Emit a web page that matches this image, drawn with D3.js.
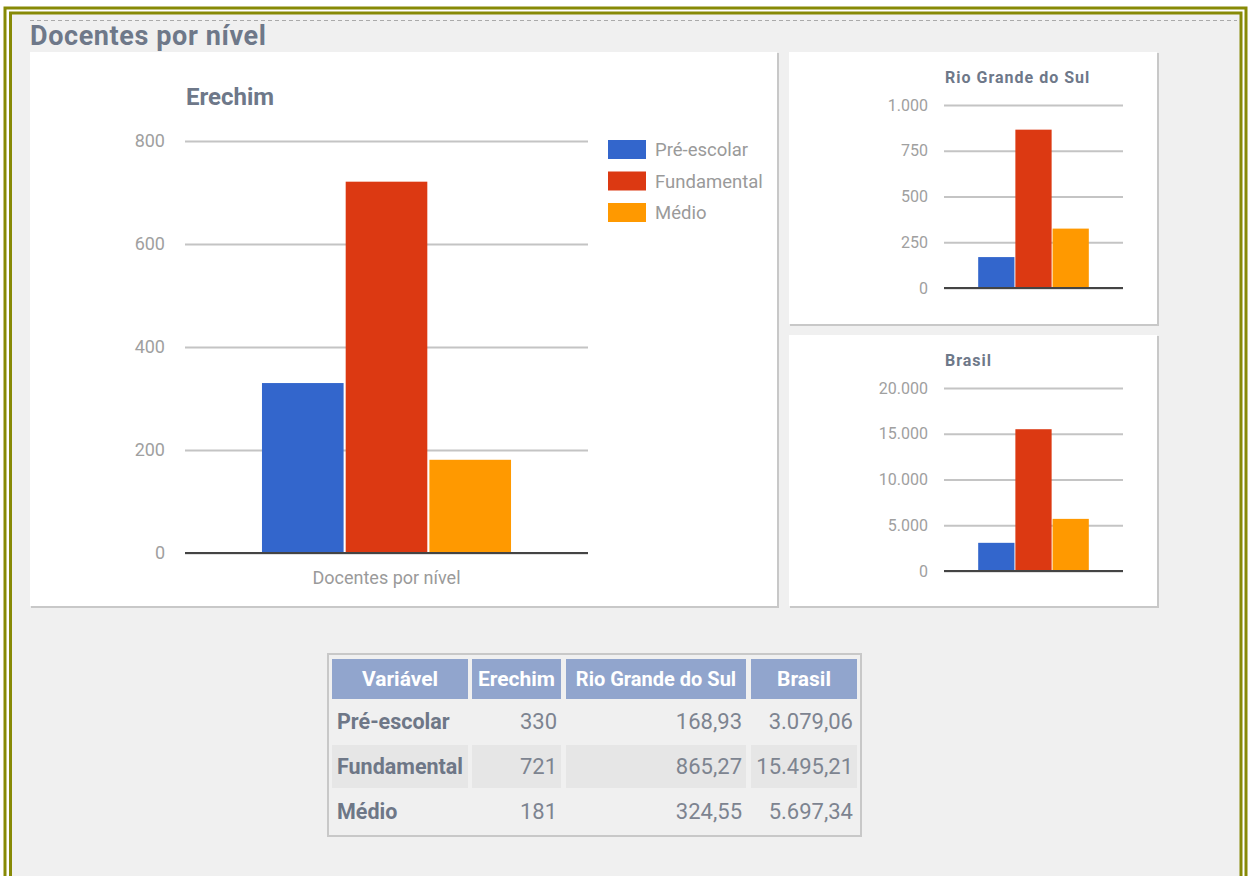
<!DOCTYPE html>
<html>
<head>
<meta charset="utf-8">
<script src="https://cdn.jsdelivr.net/npm/d3@7"></script>
<style>
  body { margin: 0; background: #fff; }
  svg text { font-family: Roboto, "Liberation Sans", Arial, sans-serif; }
</style>
</head>
<body>
<svg id="page" width="1258" height="876"></svg>
<script>
// data
const levels = ['Pré-escolar', 'Fundamental', 'Médio'];
const colors = ['#3366cc', '#dc3912', '#ff9900'];
const erechim = [330, 721, 181];
const rioGrande = [168.93, 865.27, 324.55];
const brasil = [3079.06, 15495.21, 5697.34];
const erechimTicks = [0, 200, 400, 600, 800];
const rioGrandeTicks = [0, 250, 500, 750, 1000];
const brasilTicks = [0, 5000, 10000, 15000, 20000];
const tableHeader = ['Variável', 'Erechim', 'Rio Grande do Sul', 'Brasil'];

const ptBR = d3.formatLocale({decimal: ',', thousands: '.', grouping: [3], currency: ['R$', '']});
const fmtInt = ptBR.format(',d');
const fmtDec = ptBR.format(',.2f');

const svg = d3.select('#page');

// frame
svg.append('rect').attr('x', 5).attr('y', 8).attr('width', 1241).attr('height', 900)
  .attr('fill', '#fff').attr('stroke', '#878a06').attr('stroke-width', 3);
svg.append('rect').attr('x', 10.5).attr('y', 13).attr('width', 1230.5).attr('height', 900)
  .attr('fill', '#f0f0f0').attr('stroke', '#878a06').attr('stroke-width', 3);
svg.append('line').attr('x1', 30).attr('x2', 1237).attr('y1', 20.5).attr('y2', 20.5)
  .attr('stroke', '#aaa').attr('stroke-dasharray', '4,3');
svg.append('text').attr('x', 30).attr('y', 45).text('Docentes por nível')
  .attr('font-size', 27).attr('letter-spacing', 0.6).attr('font-weight', 'bold').attr('fill', '#6e7889');

function panel(x, y, w, h) {
  svg.append('rect').attr('x', x + 1).attr('y', y + 1).attr('width', w + 1).attr('height', h + 1).attr('fill', '#c8c8c8');
  svg.append('rect').attr('x', x).attr('y', y).attr('width', w).attr('height', h).attr('fill', '#fff');
}
panel(30, 52, 747, 554);
panel(789, 52, 368, 272);
panel(789, 335, 368, 271);

/**
 * barChart - draws one grouped column chart
 */
function barChart(opts) {
  const {values, ticks, left, right, top, zero, title, titleY, fontSize, labelGap, tickFmt} = opts;
  const g = svg.append('g');
  const y = d3.scaleLinear().domain([0, ticks[ticks.length - 1]]).range([zero, top]);
  const outer = d3.scaleBand().domain(['Docentes por nível']).range([left, right])
    .paddingInner(0.382).paddingOuter(0.191);
  const inner = d3.scaleBand().domain(levels)
    .range([outer('Docentes por nível'), outer('Docentes por nível') + outer.bandwidth()])
    .paddingInner(0.025);

  const axis = g.append('g').attr('transform', 'translate(' + left + ',0)')
    .call(d3.axisLeft(y).tickValues(ticks).tickSize(-(right - left)).tickPadding(labelGap).tickFormat(tickFmt));
  axis.select('.domain').remove();
  axis.selectAll('.tick line').attr('stroke', '#c4c4c4').attr('stroke-width', 2);
  axis.selectAll('.tick text').attr('fill', '#a0a0a0').attr('font-size', fontSize)
    .style('font-family', 'Roboto, "Liberation Sans", Arial, sans-serif');

  g.selectAll('rect.bar').data(values).enter().append('rect').attr('class', 'bar')
    .attr('x', (d, i) => inner(levels[i]))
    .attr('width', inner.bandwidth())
    .attr('y', d => y(d))
    .attr('height', d => zero - y(d))
    .attr('fill', (d, i) => colors[i]);

  g.append('line').attr('x1', left).attr('x2', right).attr('y1', zero).attr('y2', zero)
    .attr('stroke', '#444').attr('stroke-width', 2);

  g.append('text').attr('x', left + 1).attr('y', titleY).text(title)
    .attr('font-size', opts.titleSize).attr('font-weight', 'bold').attr('fill', '#6e7889')
    .attr('letter-spacing', opts.titleSpacing || 0);
  return {g, outer};
}

const main = barChart({values: erechim, ticks: erechimTicks, left: 185, right: 588, top: 141, zero: 553,
  title: 'Erechim', titleY: 105, titleSize: 24, fontSize: 18, labelGap: 20, tickFmt: fmtInt});
main.g.append('text').attr('x', main.outer('Docentes por nível') + main.outer.bandwidth() / 2).attr('y', 584)
  .attr('text-anchor', 'middle').text('Docentes por nível').attr('font-size', 18).attr('fill', '#9a9a9a');

// legend
const legend = main.g.selectAll('g.legend').data(levels).enter().append('g').attr('class', 'legend')
  .attr('transform', (d, i) => 'translate(608,' + (140 + i * 31.5) + ')');
legend.append('rect').attr('width', 38).attr('height', 19).attr('fill', (d, i) => colors[i]);
legend.append('text').attr('x', 47).attr('y', 16).text(d => d).attr('font-size', 18.5).attr('fill', '#9a9a9a');

barChart({values: rioGrande, ticks: rioGrandeTicks, left: 944, right: 1123, top: 105, zero: 288,
  title: 'Rio Grande do Sul', titleY: 83, titleSize: 16, titleSpacing: 1, fontSize: 16, labelGap: 16, tickFmt: fmtInt});
barChart({values: brasil, ticks: brasilTicks, left: 944, right: 1123, top: 388, zero: 571,
  title: 'Brasil', titleY: 366, titleSize: 16, titleSpacing: 1, fontSize: 16, labelGap: 16, tickFmt: fmtInt});

// table
const cols = [[332, 468], [472, 561], [566, 746], [751, 857]];
const rowsY = [[700, 743], [745, 788], [790, 831]];
const table = svg.append('g');
table.append('rect').attr('x', 328).attr('y', 654).attr('width', 533).attr('height', 182)
  .attr('fill', '#f0f0f0').attr('stroke', '#c8c8c8').attr('stroke-width', 2);
table.selectAll('rect.head').data(tableHeader).enter().append('rect')
  .attr('x', (d, i) => cols[i][0]).attr('y', 659)
  .attr('width', (d, i) => cols[i][1] - cols[i][0]).attr('height', 40).attr('fill', '#91a5cd');
table.selectAll('text.head').data(tableHeader).enter().append('text')
  .attr('x', (d, i) => (cols[i][0] + cols[i][1]) / 2).attr('y', 686)
  .attr('text-anchor', 'middle').text(d => d)
  .attr('font-size', (d, i) => i === 2 ? 20 : 21).attr('font-weight', 'bold').attr('fill', '#fff');

levels.forEach((lvl, r) => {
  const cells = [lvl, fmtInt(erechim[r]), fmtDec(rioGrande[r]), fmtDec(brasil[r])];
  if (r === 1) {
    cols.forEach(c => {
      table.append('rect').attr('x', c[0]).attr('y', rowsY[r][0]).attr('width', c[1] - c[0])
        .attr('height', rowsY[r][1] - rowsY[r][0]).attr('fill', '#e6e6e6');
    });
  }
  cells.forEach((txt, c) => {
    table.append('text')
      .attr('x', c === 0 ? cols[c][0] + 5 : cols[c][1] - 4)
      .attr('y', rowsY[r][0] + 29)
      .attr('text-anchor', c === 0 ? 'start' : 'end')
      .attr('font-size', c === 0 ? 21.5 : 22)
      .attr('font-weight', c === 0 ? 'bold' : 'normal')
      .attr('fill', c === 0 ? '#6e7787' : '#7d8490')
      .text(txt);
  });
});
</script>
</body>
</html>
